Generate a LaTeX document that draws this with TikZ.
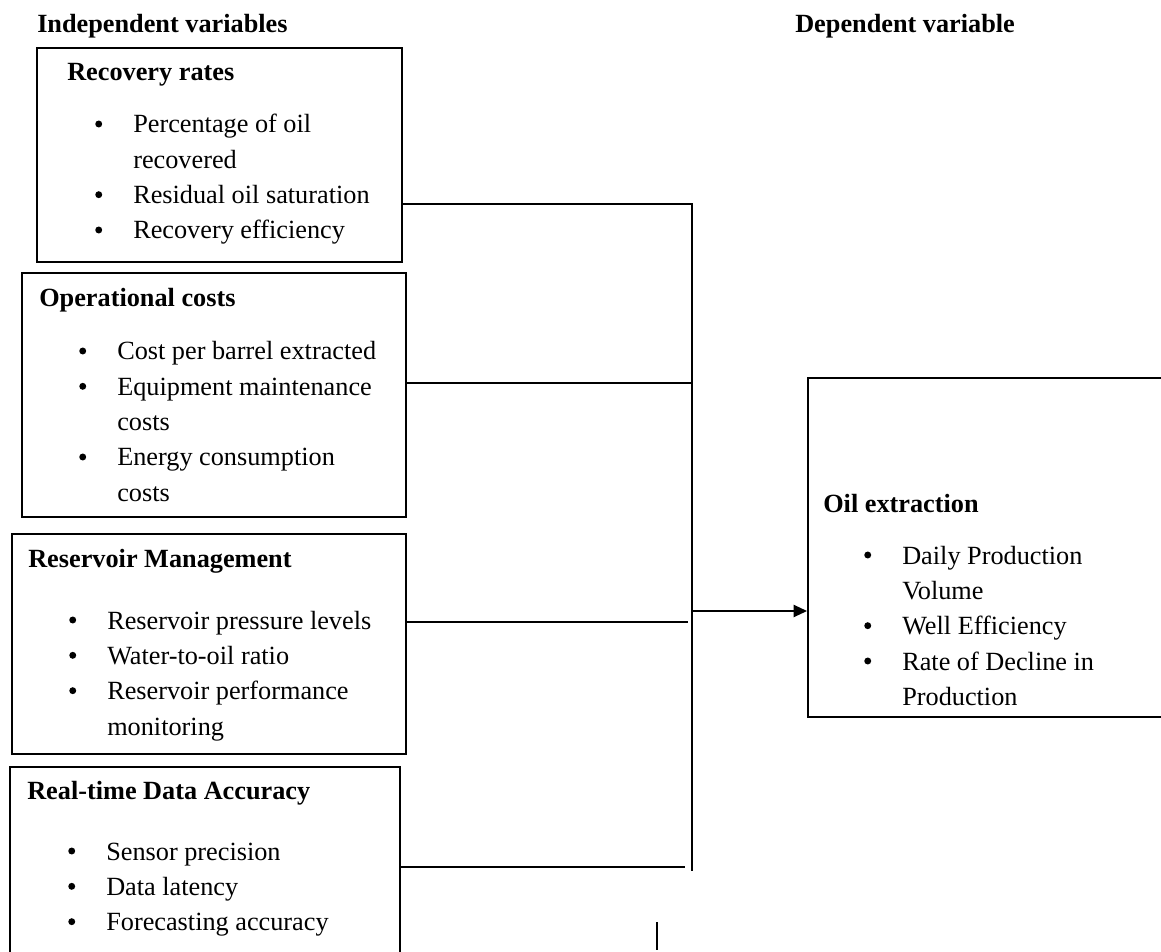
\documentclass[tikz,border=0pt]{standalone}
\usepackage{fontspec}
\setmainfont{Liberation Serif}
\usetikzlibrary{arrows.meta,fit}
\newcommand{\blt}{\tikz[baseline=0pt]\fill (2.6pt,6.75pt) circle (2.6pt);}
\newcommand{\itm}[1]{\hbox{\makebox[28.5pt][l]{\blt}#1}}
\newcommand{\cnt}[1]{\hbox{\hspace{28.5pt}#1}}
\newcommand{\lst}[1]{\vtop{\baselineskip=26.5pt\lineskip=0pt\lineskiplimit=-100pt #1}}
\tikzset{
  box/.style={draw, line width=1.4pt, inner sep=0pt},
  txt/.style={anchor=base west, inner sep=0pt, font=\fontsize{19.7pt}{26.5pt}\selectfont},
  ttl/.style={anchor=base west, inner sep=0pt, font=\fontsize{19.7pt}{26.5pt}\selectfont\bfseries},
  conn/.style={line width=1.4pt},
}
\begin{document}
\begin{tikzpicture}[x=0.75pt,y=-0.75pt]
\useasboundingbox (0,0) rectangle (1161,952);
\clip (0,0) rectangle (1161,952);
\node[ttl] (hind) at (37,33) {Independent variables};
\node[ttl] (hdep) at (795,33) {Dependent variable};
% box 1
\node[box, fit={(37,48) (402,262)}] (b1) {};
\node[ttl] (t1) at (67,81) {Recovery rates};
\node[txt] (l1) at (95,133) {\lst{\itm{Percentage of oil}\cnt{recovered}\itm{Residual oil saturation}\itm{Recovery efficiency}}};
% box 2
\node[box, fit={(22,273) (406,517)}] (b2) {};
\node[ttl] (t2) at (39,307) {Operational costs};
\node[txt] (l2) at (79,360) {\lst{\itm{Cost per barrel extracted}\itm{Equipment maintenance}\cnt{costs}\itm{Energy consumption}\cnt{costs}}};
% box 3
\node[box, fit={(12,534) (406,754)}] (b3) {};
\node[ttl] (t3) at (28,567) {Reservoir Management};
\node[txt] (l3) at (69,629) {\lst{\itm{Reservoir pressure levels}\itm{Water-to-oil ratio}\itm{Reservoir performance}\cnt{monitoring}}};
% box 4
\node[box, fit={(10,767) (400,985)}] (b4) {};
\node[ttl] (t4) at (27,799) {Real-time Data Accuracy};
\node[txt] (l4) at (68,860) {\lst{\itm{Sensor precision}\itm{Data latency}\itm{Forecasting accuracy}}};
% dependent box
\node[box, fit={(808,378) (1175,717)}] (ob) {};
\node[ttl] (t5) at (823,512) {Oil extraction};
\node[txt] (l5) at (864,564) {\lst{\itm{Daily Production}\cnt{Volume}\itm{Well Efficiency}\itm{Rate of Decline in}\cnt{Production}}};
% connectors
\coordinate (jt) at (692,204);
\coordinate (jb) at (692,871);
\draw[conn] (b1.east |- jt) -- (jt) -- (jb);
\coordinate (j2) at (692,383);
\draw[conn] (b2.east |- j2) -- (j2);
\coordinate (j3) at (688,622);
\draw[conn] (b3.east |- j3) -- (j3);
\coordinate (j4) at (685,867);
\draw[conn] (b4.east |- j4) -- (j4);
\coordinate (ja) at (692,611);
\draw[conn, -{Triangle[length=10pt,width=9pt]}] (ja) -- (ja -| ob.west);
\coordinate (s1) at (657,922);
\coordinate (s2) at (657,950);
\draw[conn] (s1) -- (s2);
\end{tikzpicture}
\end{document}
